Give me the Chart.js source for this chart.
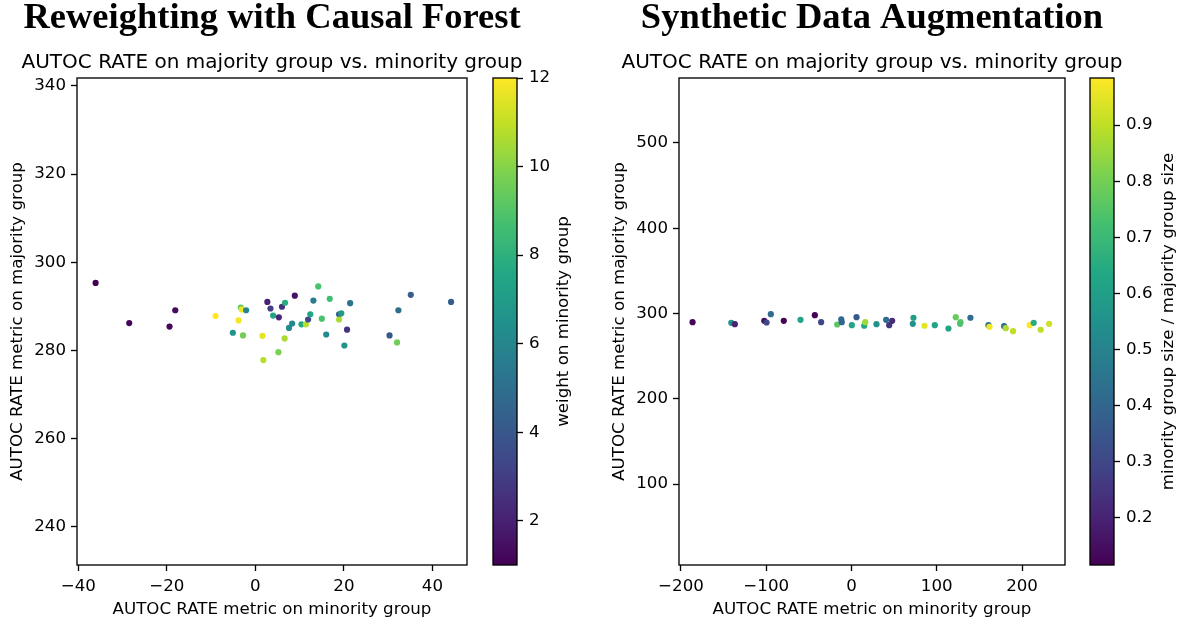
<!DOCTYPE html>
<html>
<head>
<meta charset="utf-8">
<script src="https://cdn.jsdelivr.net/npm/chart.js@4.4.1/dist/chart.umd.min.js"></script>
<style>
  html, body { margin: 0; padding: 0; background: #fff; }
  #fig { position: relative; width: 1182px; height: 622px; overflow: hidden; background: #fff; }
  #fig canvas { position: absolute; top: 0; }
</style>
</head>
<body>
<div id="fig">
  <canvas id="cfMain" width="600" height="622" style="left:0px"></canvas>
  <canvas id="cfBar" width="120" height="622" style="left:480px"></canvas>
  <canvas id="sdMain" width="582" height="622" style="left:600px"></canvas>
  <canvas id="sdBar" width="102" height="622" style="left:1080px"></canvas>
</div>
<script>
/* ---- Reweighting with Causal Forest: one point per weight setting ---- */
const CF_MINORITY = [
  -36.1, -28.5, -18.1, -19.4, -9.0, -3.3, -3.1, -2.1, -3.8, -5.1, -2.8,
  1.6, 1.8, 2.7, 3.4, 4.0, 5.3, 5.2, 6.0, 6.6, 6.7, 7.6, 8.3, 8.9,
  10.4, 11.4, 11.9, 12.4, 13.1, 14.2, 15.0, 16.0, 16.8, 18.9, 19.4, 18.9,
  20.1, 20.7, 21.4, 30.3, 32.0, 32.3, 35.1, 44.2
];
const CF_MAJORITY = [
  295.3, 286.2, 289.1, 285.4, 287.8, 289.7, 289.3, 289.1, 286.8, 284.0, 283.4,
  283.3, 277.8, 291.0, 289.5, 287.9, 287.5, 279.6, 289.9, 282.7, 290.8, 285.1, 286.1, 292.4,
  285.9, 285.9, 287.0, 288.2, 291.3, 294.5, 287.2, 283.6, 291.7, 288.2, 288.4, 287.0,
  281.1, 284.7, 290.7, 283.4, 281.8, 289.1, 292.6, 291.0
];
const CF_WEIGHT = [
  1.0, 1.2, 1.3, 1.2, 12.0, 9.2, 11.8, 6.0, 11.9, 6.6, 9.6,
  11.6, 10.8, 2.0, 3.0, 7.4, 2.2, 9.8, 2.6, 10.6, 7.9, 6.2, 6.0, 1.6,
  7.6, 10.8, 3.4, 7.4, 5.6, 8.8, 8.8, 6.2, 8.6, 4.2, 7.0, 10.6,
  6.6, 2.6, 5.2, 4.0, 9.6, 5.0, 4.2, 4.2
];
const CF_X_TICKS = [-40, -20, 0, 20, 40];
const CF_Y_TICKS = [240, 260, 280, 300, 320, 340];
const CF_W_TICKS = [2, 4, 6, 8, 10, 12];

/* ---- Synthetic Data Augmentation: one point per size ratio ---- */
const SD_MINORITY = [
  -186.4, -141.0, -136.8, -102.3, -99.6, -94.6, -79.4, -59.8, -43.0, -35.6,
  -16.8, -12.0, -11.4, 0.4, 5.9, 14.9, 16.1, 29.3, 40.6, 44.2, 47.7,
  72.7, 71.9, 85.6, 97.7, 113.7, 122.3, 127.8, 127.4, 139.5, 160.6, 161.8,
  179.0, 180.9, 189.5, 209.0, 213.7, 221.9, 231.8
];
const SD_MAJORITY = [
  289.8, 289.1, 287.5, 291.4, 289.4, 299.2, 291.4, 292.6, 298.0, 289.8,
  287.1, 293.0, 289.8, 286.3, 295.7, 285.6, 289.8, 287.5, 292.6, 286.3, 291.4,
  295.0, 287.9, 285.6, 286.3, 282.4, 295.7, 289.8, 287.9, 295.0, 286.3, 284.4,
  285.1, 282.8, 279.3, 286.3, 289.1, 280.9, 287.9
];
const SD_RATIO = [
  0.13, 0.56, 0.20, 0.15, 0.30, 0.42, 0.12, 0.62, 0.12, 0.30,
  0.76, 0.42, 0.40, 0.62, 0.36, 0.62, 0.86, 0.55, 0.42, 0.25, 0.22,
  0.60, 0.55, 0.95, 0.62, 0.62, 0.78, 0.76, 0.74, 0.42, 0.45, 0.97,
  0.42, 0.88, 0.90, 0.98, 0.65, 0.90, 0.92
];
const SD_X_TICKS = [-200, -100, 0, 100, 200];
const SD_Y_TICKS = [100, 200, 300, 400, 500];
const SD_R_TICKS = [0.2, 0.3, 0.4, 0.5, 0.6, 0.7, 0.8, 0.9];

const VIRIDIS = ['#440154', '#482475', '#414487', '#355f8d', '#2a788e', '#21918c',
                 '#22a884', '#44bf70', '#7ad151', '#bddf26', '#fde725'];

const FONT = { family: 'DejaVu Sans', size: 16.67 };
Chart.defaults.color = '#000';
Chart.defaults.font.family = FONT.family;

function hexRgb(h) {
  return [1, 3, 5].map(i => parseInt(h.slice(i, i + 2), 16));
}

function viridis(t) {
  t = Math.min(1, Math.max(0, t));
  const p = t * (VIRIDIS.length - 1);
  const i = Math.min(Math.floor(p), VIRIDIS.length - 2);
  const f = p - i;
  const a = hexRgb(VIRIDIS[i]), b = hexRgb(VIRIDIS[i + 1]);
  const c = a.map((v, k) => Math.round(v + (b[k] - v) * f));
  return `rgb(${c[0]},${c[1]},${c[2]})`;
}

const minus = v => String(v).replace('-', '\u2212');

const tickGrid = {
  display: true, drawOnChartArea: false, drawTicks: true,
  tickLength: 6, tickWidth: 1.33, tickColor: '#000',
};

// black box round the plot area
const framePlugin = {
  id: 'frame',
  afterDraw(chart) {
    const { ctx, chartArea: a } = chart;
    ctx.save();
    ctx.strokeStyle = '#000';
    ctx.lineWidth = 1.33;
    ctx.strokeRect(a.left, a.top, a.right - a.left, a.bottom - a.top);
    ctx.restore();
  },
};

// bold heading and subtitle, both centred over the plot area
const headingPlugin = {
  id: 'heading',
  afterDraw(chart, args, opts) {
    const { ctx, chartArea: a } = chart;
    const cx = (a.left + a.right) / 2;
    ctx.save();
    ctx.fillStyle = '#000';
    ctx.textAlign = 'center';
    ctx.textBaseline = 'alphabetic';
    ctx.font = 'bold 36.5px "Liberation Serif"';
    ctx.fillText(opts.heading, cx, 28);
    ctx.font = '20px "DejaVu Sans"';
    ctx.fillText(opts.subtitle, cx, 68);
    ctx.restore();
  },
};

// colorbar label reads bottom to top
const barLabelPlugin = {
  id: 'barLabel',
  afterDraw(chart, args, opts) {
    const { ctx, chartArea: a } = chart;
    ctx.save();
    ctx.fillStyle = '#000';
    ctx.font = `${FONT.size}px "${FONT.family}"`;
    ctx.textAlign = 'center';
    ctx.textBaseline = 'middle';
    ctx.translate(opts.x, (a.top + a.bottom) / 2);
    ctx.rotate(-Math.PI / 2);
    ctx.fillText(opts.text, 0, 0);
    ctx.restore();
  },
};

function scatterPanel(id, p) {
  const span = p.cMax - p.cMin;
  return new Chart(document.getElementById(id), {
    type: 'scatter',
    data: {
      datasets: [{
        data: p.xs.map((x, i) => ({ x, y: p.ys[i] })),
        pointBackgroundColor: c => viridis((p.cs[c.dataIndex] - p.cMin) / span),
        pointBorderWidth: 0,
        pointRadius: 3.1,
        pointHoverRadius: 3.1,
      }],
    },
    options: {
      responsive: false,
      animation: false,
      events: [],
      layout: { padding: { top: 78, right: p.padRight, bottom: 0, left: 0 } },
      plugins: {
        legend: { display: false },
        tooltip: { enabled: false },
        heading: { heading: p.heading, subtitle: p.subtitle },
      },
      scales: {
        x: {
          type: 'linear', min: p.xMin, max: p.xMax,
          afterBuildTicks: s => { s.ticks = p.xTicks.map(v => ({ value: v })); },
          afterFit: s => { s.height = 57; },
          grid: tickGrid,
          border: { display: false },
          ticks: { font: FONT, padding: 6, maxRotation: 0, autoSkip: false, callback: minus },
          title: { display: true, text: 'AUTOC RATE metric on minority group', font: FONT,
                   padding: { top: 0, bottom: 2 } },
        },
        y: {
          type: 'linear', min: p.yMin, max: p.yMax,
          afterBuildTicks: s => { s.ticks = p.yTicks.map(v => ({ value: v })); },
          afterFit: s => { s.width = p.yWidth; },
          grid: tickGrid,
          border: { display: false },
          ticks: { font: FONT, padding: 5, autoSkip: false, callback: minus },
          title: { display: true, text: 'AUTOC RATE metric on majority group', font: FONT,
                   padding: { top: p.yTitlePad, bottom: 0 } },
        },
      },
    },
    plugins: [framePlugin, headingPlugin],
  });
}

function colorbar(id, p) {
  return new Chart(document.getElementById(id), {
    type: 'bar',
    data: {
      labels: [''],
      datasets: [{
        data: [[p.min, p.max]],
        backgroundColor: c => {
          const a = c.chart.chartArea;
          if (!a) return VIRIDIS[0];
          const g = c.chart.ctx.createLinearGradient(0, a.bottom, 0, a.top);
          VIRIDIS.forEach((col, i) => g.addColorStop(i / (VIRIDIS.length - 1), col));
          return g;
        },
        borderWidth: 0,
        barPercentage: 1,
        categoryPercentage: 1,
      }],
    },
    options: {
      responsive: false,
      animation: false,
      events: [],
      layout: { padding: { top: 78, right: 0, bottom: 57, left: p.padLeft } },
      plugins: {
        legend: { display: false },
        tooltip: { enabled: false },
        barLabel: { text: p.label, x: p.labelX },
      },
      scales: {
        x: { display: false },
        y: {
          position: 'right', min: p.min, max: p.max,
          afterBuildTicks: s => { s.ticks = p.ticks.map(v => ({ value: v })); },
          afterFit: s => { s.width = p.axisWidth; },
          grid: tickGrid,
          border: { display: false },
          ticks: { font: FONT, padding: 6, autoSkip: false, callback: p.format },
        },
      },
    },
    plugins: [framePlugin, barLabelPlugin],
  });
}

scatterPanel('cfMain', {
  xs: CF_MINORITY, ys: CF_MAJORITY, cs: CF_WEIGHT, cMin: 1, cMax: 12,
  xMin: -40.3, xMax: 47.8, yMin: 231.3, yMax: 341.8,
  xTicks: CF_X_TICKS, yTicks: CF_Y_TICKS,
  padRight: 133, yWidth: 77, yTitlePad: 8,
  heading: 'Reweighting with Causal Forest',
  subtitle: 'AUTOC RATE on majority group vs. minority group',
});

colorbar('cfBar', {
  min: 1, max: 12, ticks: CF_W_TICKS, format: v => String(v),
  padLeft: 13, axisWidth: 83, label: 'weight on minority group', labelX: 84,
});

scatterPanel('sdMain', {
  xs: SD_MINORITY, ys: SD_MAJORITY, cs: SD_RATIO, cMin: 0.116, cMax: 0.984,
  xMin: -202.3, xMax: 250.4, yMin: 5, yMax: 576.2,
  xTicks: SD_X_TICKS, yTicks: SD_Y_TICKS,
  padRight: 117, yWidth: 79, yTitlePad: 10,
  heading: 'Synthetic Data Augmentation',
  subtitle: 'AUTOC RATE on majority group vs. minority group',
});

colorbar('sdBar', {
  min: 0.116, max: 0.984, ticks: SD_R_TICKS, format: v => v.toFixed(1),
  padLeft: 10, axisWidth: 68, label: 'minority group size / majority group size', labelX: 89,
});
</script>
</body>
</html>
